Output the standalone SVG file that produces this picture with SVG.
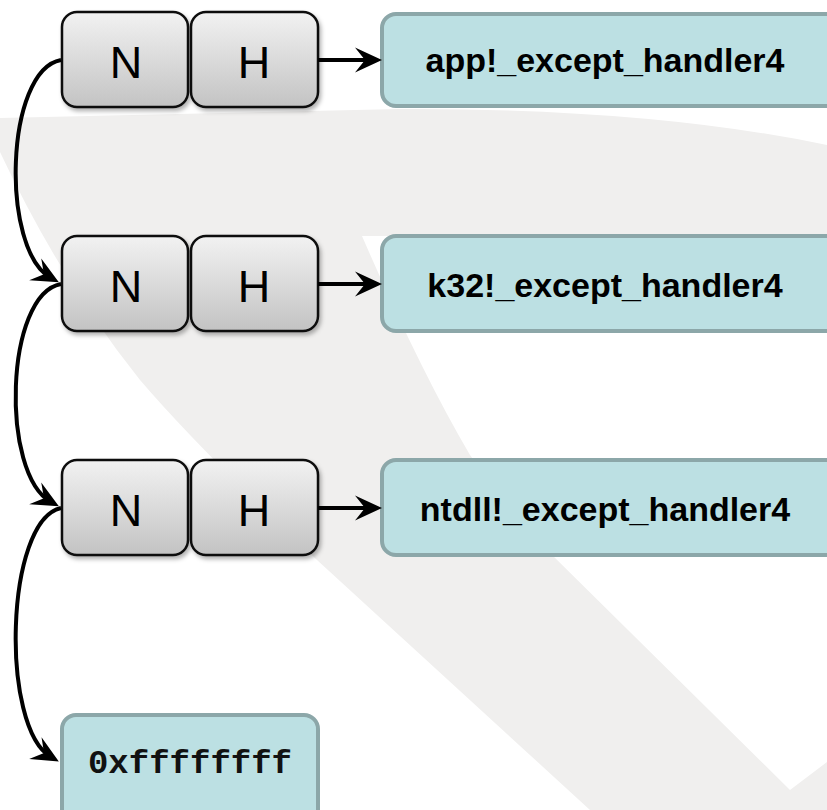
<svg xmlns="http://www.w3.org/2000/svg" width="827" height="810" viewBox="0 0 827 810">
  <defs>
    <linearGradient id="gray" x1="0" y1="0" x2="0" y2="1">
      <stop offset="0" stop-color="#f2f2f2"/>
      <stop offset="1" stop-color="#c3c3c3"/>
    </linearGradient>
    <filter id="sh" x="-20%" y="-20%" width="140%" height="150%">
      <feDropShadow dx="2" dy="3" stdDeviation="2" flood-color="#000" flood-opacity="0.3"/>
    </filter>
    <marker id="ah" viewBox="-28 -14 30 28" refX="-9" refY="0" markerWidth="30" markerHeight="28" markerUnits="userSpaceOnUse" orient="auto">
      <path d="M0,0 L-27,-12.5 L-17,0 L-27,12.5 Z" fill="#000"/>
    </marker>
    <style>
      .cell { fill: url(#gray); stroke: #111; stroke-width: 2.5; filter: url(#sh); }
      .hb { fill: #bce0e3; stroke: #8ca7a9; stroke-width: 4; }
      .lbl { font-family: "Liberation Sans", Arial, sans-serif; font-size: 45px; fill: #000; text-anchor: middle; }
      .fn { font-family: "Liberation Sans", Arial, sans-serif; font-size: 34px; font-weight: bold; fill: #000; text-anchor: middle; }
      .mono { font-family: "Liberation Mono", "Courier New", monospace; font-size: 34px; font-weight: bold; fill: #111; text-anchor: middle; }
      .conn { fill: none; stroke: #000; stroke-width: 4; marker-end: url(#ah); }
    </style>
  </defs>

  <rect width="827" height="810" fill="#fff"/>
  <path id="swoosh" fill="#f0efee" d="M0,118 L400,109 Q650,108 827,145 L827,236 L362,236 Q420,370 470,455 Q505,505 547,550 L790,790 L827,762 L827,810 L590,810 L317,560 Q200,450 140,380 Q60,280 0,152 Z"/>

  <g id="frame1">
    <rect class="cell" x="62" y="12" width="126" height="95" rx="15"/>
    <text class="lbl" x="126" y="78">N</text>
    <rect class="cell" x="191" y="12" width="127" height="95" rx="15"/>
    <text class="lbl" x="254" y="78">H</text>
  </g>
  <g id="frame2">
    <rect class="cell" x="62" y="236" width="126" height="95" rx="15"/>
    <text class="lbl" x="126" y="302">N</text>
    <rect class="cell" x="191" y="236" width="127" height="95" rx="15"/>
    <text class="lbl" x="254" y="302">H</text>
  </g>
  <g id="frame3">
    <rect class="cell" x="62" y="460" width="126" height="95" rx="15"/>
    <text class="lbl" x="126" y="526">N</text>
    <rect class="cell" x="191" y="460" width="127" height="95" rx="15"/>
    <text class="lbl" x="254" y="526">H</text>
  </g>

  <g id="handler1">
    <rect class="hb" x="382" y="14" width="470" height="92" rx="14"/>
    <text class="fn" x="605" y="72">app!_except_handler4</text>
  </g>
  <g id="handler2">
    <rect class="hb" x="382" y="236" width="470" height="95" rx="14"/>
    <text class="fn" x="605" y="297">k32!_except_handler4</text>
  </g>
  <g id="handler3">
    <rect class="hb" x="382" y="460" width="470" height="95" rx="14"/>
    <text class="fn" x="605" y="521">ntdll!_except_handler4</text>
  </g>
  <g id="end">
    <rect class="hb" x="62" y="715" width="256" height="110" rx="14"/>
    <text class="mono" x="190" y="773">0xffffffff</text>
  </g>

  <g id="connectors">
    <path class="conn" d="M318,60 L373,60"/>
    <path class="conn" d="M318,284 L373,284"/>
    <path class="conn" d="M318,508 L373,508"/>
    <path class="conn" d="M61,60 C5,70 0,250 51,278"/>
    <path class="conn" d="M61,284 C5,294 0,474 51,502"/>
    <path class="conn" d="M61,508 C5,520 0,728 51,757"/>
  </g>
</svg>
